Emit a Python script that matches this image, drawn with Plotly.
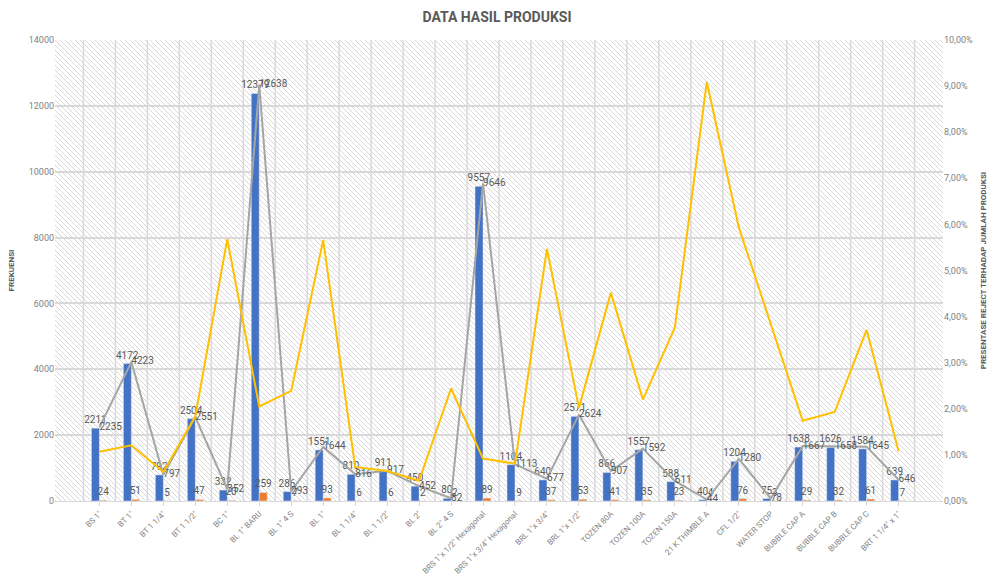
import base64
import plotly.graph_objects as go

categories = ['BS 1"', 'BT 1"', 'BT 1 1/4"', 'BT 1 1/2"', 'BC 1"', 'BL 1" BARU', 'BL 1" 4 S', 'BL 1"',
              'BL 1 1/4"', 'BL 1 1/2"', 'BL 2"', 'BL 2" 4 S', 'BRS 1"x 1/2" Hexagonal',
              'BRS 1"x 3/4" Hexagonal', 'BRL 1"x 3/4"', 'BRL 1"x 1/2"', 'TOZEN 80A', 'TOZEN 100A',
              'TOZEN 150A', '21 K THIMBLE A', 'CFL 1/2"', 'WATER STOP', 'BUBBLE CAP A',
              'BUBBLE CAP B', 'BUBBLE CAP C', 'BRT 1 1/4" x 1"']
good = [2211, 4172, 792, 2504, 332, 12379, 286, 1551, 810, 911, 450, 80, 9557, 1104, 640, 2571,
        866, 1557, 588, 40, 1204, 75, 1638, 1626, 1584, 639]
reject = [24, 51, 5, 47, 20, 259, 7, 93, 6, 6, 2, 2, 89, 9, 37, 53, 41, 35, 23, 4, 76, 3, 29, 32, 61, 7]
total = [2235, 4223, 797, 2551, 352, 12638, 293, 1644, 816, 917, 452, 82, 9646, 1113, 677, 2624,
         907, 1592, 611, 44, 1280, 78, 1667, 1658, 1645, 646]
reject_pct = [0.0107, 0.0121, 0.0063, 0.0184, 0.0568, 0.0205, 0.0239, 0.0566, 0.0074, 0.0065,
              0.0044, 0.0244, 0.0092, 0.0081, 0.0547, 0.0202, 0.0452, 0.0220, 0.0376, 0.0909,
              0.0594, 0.0385, 0.0174, 0.0193, 0.0371, 0.0108]

FONT = "Roboto, Liberation Sans Narrow, Arial"
TXT = "#595959"

fig = go.Figure()
fig.add_trace(go.Bar(x=categories, y=good, marker_color="#4472C4", text=good,
                     textposition="outside", constraintext="none", cliponaxis=False,
                     textfont=dict(size=10, color=TXT, family=FONT), name="Produk Baik"))
fig.add_trace(go.Bar(x=categories, y=reject, marker_color="#ED7D31", text=reject,
                     textposition="outside", constraintext="none", cliponaxis=False,
                     textfont=dict(size=10, color=TXT, family=FONT), name="Reject"))
fig.add_trace(go.Scatter(x=categories, y=total, mode="lines+text", line=dict(color="#A5A5A5", width=2),
                         text=total, textposition="middle right", cliponaxis=False,
                         textfont=dict(size=10, color=TXT, family=FONT), name="Jumlah Produksi"))
fig.add_trace(go.Scatter(x=categories, y=reject_pct, mode="lines", line=dict(color="#FFC000", width=2),
                         yaxis="y2", name="Presentase Reject"))

# hatched plot background
W, H = 888, 461
svg = (f'<svg xmlns="http://www.w3.org/2000/svg" width="{W}" height="{H}">'
       '<defs><pattern id="p" patternUnits="userSpaceOnUse" width="5" height="5">'
       '<path d="M0,0 L5,5 M-1,4 L1,6 M4,-1 L6,1" stroke="#d9d9d9" stroke-width="1"/>'
       '</pattern></defs>'
       f'<rect width="{W}" height="{H}" fill="white"/><rect width="{W}" height="{H}" fill="url(#p)"/></svg>')
uri = "data:image/svg+xml;base64," + base64.b64encode(svg.encode()).decode()

fig.update_layout(
    width=994, height=576,
    margin=dict(l=55, r=51, t=40, b=75, autoexpand=False),
    paper_bgcolor="white", plot_bgcolor="rgba(0,0,0,0)",
    showlegend=False, barmode="group", bargap=0.5, bargroupgap=0,
    separators=", ",
    font=dict(family=FONT, color=TXT, size=9),
    title=dict(text="<b>DATA HASIL PRODUKSI</b>", x=0.5, xanchor="center", y=0.97, yanchor="middle",
               font=dict(size=14, color=TXT, family=FONT)),
    images=[dict(source=uri, xref="paper", yref="paper", x=0, y=1, sizex=1, sizey=1,
                 sizing="stretch", layer="below", xanchor="left", yanchor="top")],
    xaxis=dict(tickangle=-45, tickfont=dict(size=8, color="#7f7f7f"), showgrid=False, automargin=False,
               showline=True, linecolor="#d9d9d9", ticks="outside", ticklen=4, tickcolor="#d9d9d9"),
    yaxis=dict(range=[0, 14000], dtick=2000, tickformat="d", gridcolor="#d9d9d9", gridwidth=1.5,
               zeroline=False, tickfont=dict(size=9, color="#7f7f7f"), automargin=False,
               title=dict(text="<b>FREKUENSI</b>", font=dict(size=8, color=TXT), standoff=12)),
    yaxis2=dict(range=[0, 0.10], dtick=0.01, tickformat=".2%", overlaying="y", side="right",
                showgrid=False, zeroline=False, tickfont=dict(size=9, color="#7f7f7f"), automargin=False,
                title=dict(text="<b>PRESENTASE REJECT TERHADAP JUMLAH PRODUKSI</b>",
                           font=dict(size=8, color=TXT), standoff=8)),
)

# vertical gridlines between categories
for i in range(len(categories) + 1):
    fig.add_shape(type="line", xref="x", yref="paper", x0=i - 0.5, x1=i - 0.5, y0=0, y1=1,
                  line=dict(color="#d9d9d9", width=1.5), layer="below")

fig.write_html("out.html")
